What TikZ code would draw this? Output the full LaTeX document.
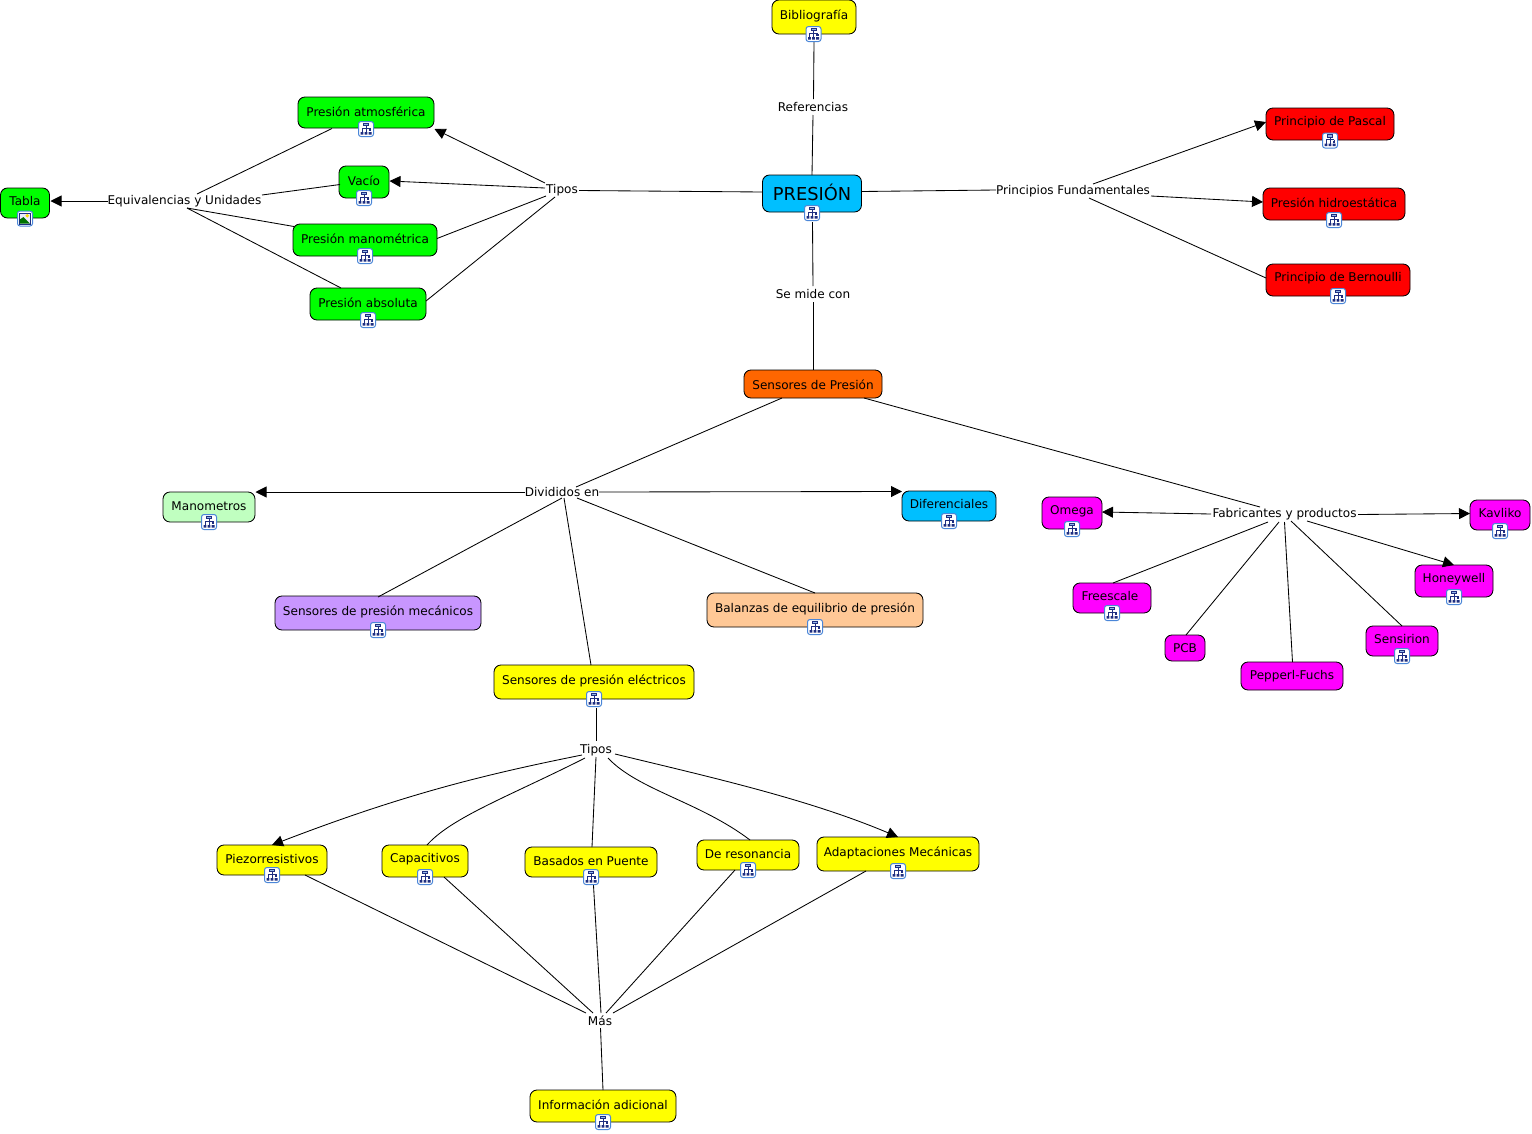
\documentclass[tikz,border=0pt]{standalone}
\usepackage{fontspec}
\setmainfont{DejaVu Sans}
\usetikzlibrary{arrows.meta}
\definecolor{cyanb}{HTML}{00BFFF}
\definecolor{lgreen}{HTML}{C0FFC0}
\definecolor{lilac}{HTML}{C896FF}
\definecolor{peach}{HTML}{FFC896}
\definecolor{orangeb}{HTML}{FF6600}
\definecolor{yel}{HTML}{FFFF00}
\definecolor{mag}{HTML}{FF00FF}
\definecolor{grn}{HTML}{00FF00}
\definecolor{rd}{HTML}{FF0000}
\definecolor{iconblue}{HTML}{4A86D8}
\definecolor{treeblue}{HTML}{1E2E80}
\tikzset{
  box/.style={draw=black,line width=0.85pt,rounded corners=7pt,inner sep=0pt,outer sep=0pt,font=\fontsize{12.05}{14}\selectfont},
  lab/.style={inner sep=0pt,outer sep=0pt,anchor=base,font=\fontsize{12.05}{14}\selectfont},
  conn/.style={draw=black,line width=0.85pt},
  arr/.style={conn,-{Triangle[length=11pt,width=11pt]}}
}
\newcommand\cn[8]{%
  \pgfmathsetmacro\myraise{(#3+#5)/2-#7}%
  \node[box,fill=#6,minimum width={(#4)-(#2)},minimum height={(#5)-(#3)}] (#1) at ({(#2+#4)/2},{(#3+#5)/2}) {\raisebox{\myraise pt}[0pt][0pt]{#8}};}
\newcommand\link[5][conn]{\draw[#1] ([shift={(#3)}]#2) -- ([shift={(#5)}]#4);}
\newcommand\ticon[2]{%
  \begin{scope}[shift={(#1,#2)}]
    \draw[iconblue,line width=1pt,fill=white,rounded corners=2.5pt] (-7.5,-7.5) rectangle (7.5,7.5);
    \draw[treeblue,line width=0.8pt] (0,-3.5) -- (0,3) (-3.7,-1) -- (3.7,-1) (-4,-1) -- (-4,3) (4,-1) -- (4,0.5);
    \draw[treeblue,line width=0.8pt,fill=iconblue!60] (-2.5,-5.8) rectangle (2.5,-3.5);
    \fill[treeblue] (-5.5,3) rectangle (-2.7,5.6) (-1.3,3.2) rectangle (1.3,5.6) (2.7,3) rectangle (5.5,5.6);
    \fill[treeblue] (2.6,0.3) rectangle (5.2,2.2);
  \end{scope}}
\newcommand\picon[2]{%
  \begin{scope}[shift={(#1,#2)}]
    \draw[iconblue,line width=1pt,fill=white,rounded corners=2.5pt] (-7.5,-7.5) rectangle (7.5,7.5);
    \draw[treeblue,line width=0.7pt,fill=blue!8] (-5.5,-5.5) rectangle (5.5,5.5);
    \fill[yellow!80!orange] (2.2,-2.8) circle (1.9);
    \fill[green!45!black] (-5.2,5.2) -- (-5.2,1) -- (-1.5,-1.5) -- (5.2,5.2) -- cycle;
  \end{scope}}
\begin{document}
\begin{tikzpicture}[x=1pt,y=-1pt]
\useasboundingbox (0,0) rectangle (1532,1133);
% concepts
\cn{bib}{772}{0}{856}{34}{yel}{19}{Bibliografía}
\cn{pres}{762.5}{175}{861.5}{212}{cyanb}{200}{{\fontsize{17.8}{20}\selectfont PRESIÓN}}
\cn{tabla}{0.5}{188}{49.5}{218}{grn}{205}{Tabla}
\cn{atm}{298}{97}{434}{128}{grn}{116}{Presión atmosférica}
\cn{vac}{339}{166}{389}{198}{grn}{185}{Vacío}
\cn{man}{293}{224}{437}{256}{grn}{243}{Presión manométrica}
\cn{abs}{310}{288}{426}{320}{grn}{307}{Presión absoluta}
\cn{pas}{1266}{108}{1394}{140}{rd}{125}{Principio de Pascal}
\cn{hid}{1263}{188}{1405}{220}{rd}{207}{Presión hidroestática}
\cn{ber}{1266}{264}{1410}{296}{rd}{281}{Principio de Bernoulli}
\cn{sen}{744}{370}{882}{398}{orangeb}{389}{Sensores de Presión}
\cn{mano}{163}{492}{255}{522}{lgreen}{510}{Manometros}
\cn{dif}{902}{491}{996}{521}{cyanb}{508}{Diferenciales}
\cn{ome}{1042}{497}{1102}{529}{mag}{514}{Omega}
\cn{kav}{1470}{500}{1530}{530}{mag}{517}{Kavliko}
\cn{fre}{1073}{583}{1151}{613}{mag}{600}{\hspace{-4pt}Freescale}
\cn{pcb}{1165}{635}{1205}{661}{mag}{652}{PCB}
\cn{pep}{1241}{662}{1343}{690}{mag}{679}{Pepperl-Fuchs}
\cn{sir}{1366}{626}{1438}{656}{mag}{643}{Sensirion}
\cn{hon}{1415}{565}{1493}{597}{mag}{582}{Honeywell}
\cn{mec}{275}{596}{481}{630}{lilac}{615}{Sensores de presión mecánicos}
\cn{bal}{707}{593}{923}{627}{peach}{612}{Balanzas de equilibrio de presión}
\cn{ele}{494}{665}{694}{699}{yel}{684}{Sensores de presión eléctricos}
\cn{pie}{217}{845}{327}{875}{yel}{863}{Piezorresistivos}
\cn{cap}{382}{845}{468}{877}{yel}{862}{Capacitivos}
\cn{pue}{525}{847}{657}{877}{yel}{865}{Basados en Puente}
\cn{res}{697}{840}{799}{870}{yel}{858}{De resonancia}
\cn{ada}{817}{837}{979}{871}{yel}{856}{Adaptaciones Mecánicas}
\cn{inf}{530}{1090}{676}{1122}{yel}{1109}{Información adicional}
% linking phrases
\node[lab] (ref) at (813,111) {Referencias};
\node[lab] (tip) at (562,193) {Tipos};
\node[lab] (equ) at (184.5,204) {Equivalencias y Unidades};
\node[lab] (pri) at (1073,194) {Principios Fundamentales};
\node[lab] (mid) at (813,298) {Se mide con};
\node[lab] (div) at (562,496) {Divididos en};
\node[lab] (fab) at (1284.5,517) {Fabricantes y productos};
\node[lab] (tpb) at (596,753) {Tipos};
\node[lab] (mas) at (600,1025) {Más};
% connectors
\link{bib.center}{0,25}{ref.base}{0.5,-12}
\link{ref.base}{0,4}{pres.center}{0,-18.5}
\link{tip.base}{17,-2.5}{pres.center}{-49.5,-1.5}
\link[arr]{tip.base}{-17,-10}{atm.center}{68.5,16.5}
\link[arr]{tip.base}{-17,-5}{vac.center}{25.5,-1}
\link{man.center}{72,-1.5}{tip.base}{-16,3}
\link{abs.center}{58,-3}{tip.base}{-7,4}
\link[arr]{equ.base}{-76.5,-3}{tabla.center}{25.5,-2}
\link{atm.center}{-34,16}{equ.base}{12.5,-10}
\link{vac.center}{-24,2.5}{equ.base}{77.5,-9}
\link{man.center}{-71,-13.5}{equ.base}{2.5,4}
\link{abs.center}{-27,-16}{equ.base}{2.5,4}
\link{pres.center}{49.5,-2}{pri.base}{-77,-4}
\link[arr]{pri.base}{20,-10}{pas.center}{-64,-2}
\link[arr]{pri.base}{78,2}{hid.center}{-71,-2}
\link{pri.base}{16,4}{ber.center}{-72,-2}
\link{pres.center}{0.5,28.5}{mid.base}{0,-12}
\link{mid.base}{0,4}{sen.center}{0,-14}
\link{sen.center}{-31,14}{div.base}{14,-9}
\link[arr]{div.base}{-37,-4}{mano.center}{46.5,-15}
\link[arr]{div.base}{37,-4}{dif.center}{-47,-14.5}
\link{mec.center}{0,-16}{div.base}{0,2}
\link{ele.center}{-3,-17}{div.base}{2,2}
\link{bal.center}{0,-17}{div.base}{15,2}
\link{sen.center}{51,14}{fab.base}{-24.5,-10}
\link[arr]{fab.base}{-73.5,-3}{ome.center}{30,-1}
\link[arr]{fab.base}{73.5,-2.5}{kav.center}{-30,-1.5}
\link[arr]{fab.base}{22.5,4}{hon.center}{0,-16}
\link{fre.center}{1,-15}{fab.base}{-16.5,5}
\link{pcb.center}{1,-13}{fab.base}{-5.5,5}
\link{pep.center}{0.5,-14}{fab.base}{0,5}
\link{sir.center}{0,-15}{fab.base}{6.5,4}
\link{ele.center}{2,26}{tpb.base}{0,-12}
\draw[arr] ([shift={(-14,2)}]tpb.base) .. controls +(-100,20) and +(130,-50) .. ([shift={(0,-15)}]pie.center);
\draw[conn] ([shift={(-11,5)}]tpb.base) .. controls +(-75,38) and +(25,-28) .. ([shift={(2,-16)}]cap.center);
\link{tpb.base}{0,4}{pue.center}{1,-15}
\draw[conn] ([shift={(12,5)}]tpb.base) .. controls +(30,32) and +(-50,-38) .. ([shift={(2,-15)}]res.center);
\draw[arr] ([shift={(19,1)}]tpb.base) .. controls +(95,23) and +(-90,-38) .. ([shift={(0,-17)}]ada.center);
\link{pie.center}{33,15}{mas.base}{-14,-12}
\link{cap.center}{19,16}{mas.base}{-7,-12}
\link{pue.center}{2,15}{mas.base}{1,-12}
\link{res.center}{-13,15}{mas.base}{6,-12}
\link{ada.center}{-32,17}{mas.base}{13,-12}
\link{mas.base}{0.5,3}{inf.center}{0,-16}
% resource icons
\ticon{813.5}{34}\ticon{812}{213}\picon{25}{218.5}
\ticon{366}{129}\ticon{364}{198}\ticon{365}{256}\ticon{368}{320}
\ticon{1330}{140.5}\ticon{1334}{220}\ticon{1338}{296}
\ticon{209}{522}\ticon{949}{521}\ticon{1072}{529}\ticon{1500}{531}
\ticon{1112}{613}\ticon{1454}{597}\ticon{1402}{656}
\ticon{378}{630}\ticon{815}{627}\ticon{594}{699}
\ticon{272}{875}\ticon{425}{877}\ticon{591}{877}\ticon{748}{870}\ticon{898}{871}\ticon{603}{1122}
\end{tikzpicture}
\end{document}
